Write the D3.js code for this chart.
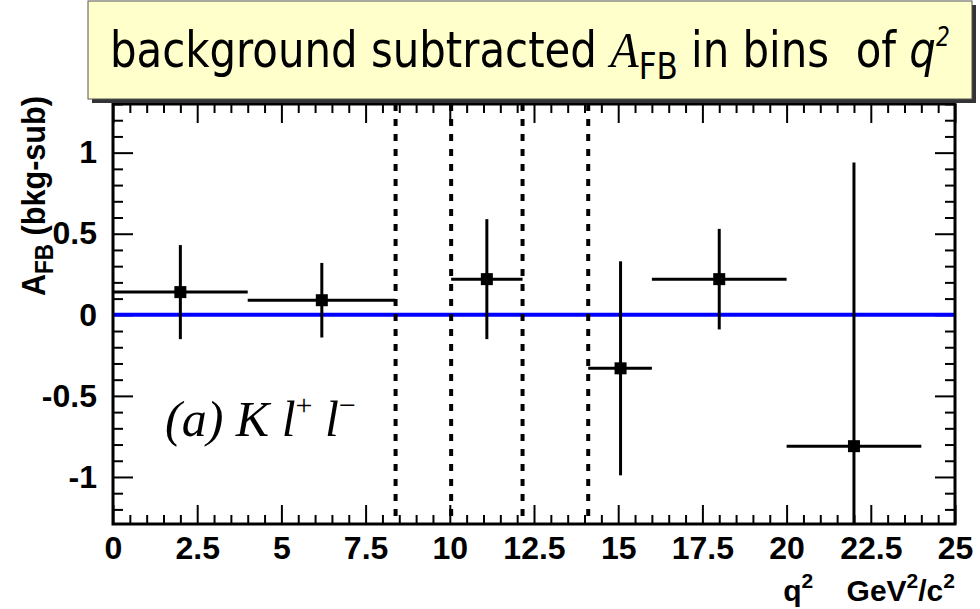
<!DOCTYPE html>
<html>
<head>
<meta charset="utf-8">
<script src="https://cdnjs.cloudflare.com/ajax/libs/d3/7.8.5/d3.min.js"></script>
<style>
  body { margin: 0; background: #fff; }
</style>
</head>
<body>
<div id="chart"></div>
<script>
// data
var q2_center = [2.0, 6.2, 11.1, 15.07, 18.0, 22.0];
var q2_low    = [0, 4.0, 10.04, 14.11, 16.0, 20.0];
var q2_high   = [4.0, 8.39, 12.16, 16.0, 20.0, 24.0];
var afb       = [0.14, 0.09, 0.22, -0.33, 0.22, -0.81];
var afb_err   = [0.29, 0.23, 0.37, 0.66, 0.31, 1.75];
var veto_lines = [8.39, 10.04, 12.16, 14.11];
var x_ticks   = [0, 2.5, 5, 7.5, 10, 12.5, 15, 17.5, 20, 22.5, 25];
var y_ticks   = [-1, -0.5, 0, 0.5, 1];

var points = afb.map(function(v, i){
    return {x: q2_center[i], lo: q2_low[i], hi: q2_high[i], y: v, err: afb_err[i]};
});

var chart_width  = 980;
var chart_height = 609;
var plot_left = 113, plot_right = 955, plot_top = 104, plot_bottom = 524;
var sans  = '"Liberation Sans", Arial, sans-serif';
var serif = '"Liberation Serif", "Times New Roman", serif';

var svg = d3.select('#chart')
    .append('svg')
    .attr('width', chart_width)
    .attr('height', chart_height)
    .style('font-family', sans);

var x_scale = d3.scaleLinear().domain([0, 25]).range([plot_left, plot_right]);
var y_scale = d3.scaleLinear().domain([-1.29, 1.30]).range([plot_bottom, plot_top]);

svg.append('defs').append('clipPath').attr('id', 'clip')
    .append('rect')
    .attr('x', plot_left).attr('y', plot_top)
    .attr('width', plot_right - plot_left)
    .attr('height', plot_bottom - plot_top);

// minor tick positions (skip the majors)
function minor_ticks(step, major_step, lo, hi){
    return d3.range(lo, hi + 1e-9, step)
        .filter(function(v){ return Math.abs(v / major_step - Math.round(v / major_step)) > 1e-6; });
}
var x_minor = minor_ticks(0.5, 2.5, 0, 25);
var y_minor = minor_ticks(0.1, 0.5, -1.2, 1.3);

function style_ticks(g){
    g.select('.domain').remove();
    g.selectAll('line').attr('stroke-width', 2);
}
function style_labels(g){
    g.selectAll('text')
        .style('font-family', sans)
        .style('font-size', '32px')
        .style('font-weight', 'bold')
        .attr('fill', '#000')
        .text(function(d){ return String(d); });
}

// ticks on all four sides, pointing inwards
svg.append('g')
    .attr('transform', 'translate(0,' + plot_bottom + ')')
    .call(d3.axisBottom(x_scale).tickValues(x_ticks).tickSize(-19).tickPadding(12))
    .call(style_ticks).call(style_labels);
svg.append('g')
    .attr('transform', 'translate(0,' + plot_bottom + ')')
    .call(d3.axisBottom(x_scale).tickValues(x_minor).tickSize(-9).tickFormat(''))
    .call(style_ticks);
svg.append('g')
    .attr('transform', 'translate(0,' + plot_top + ')')
    .call(d3.axisTop(x_scale).tickValues(x_ticks).tickSize(-19).tickFormat(''))
    .call(style_ticks);
svg.append('g')
    .attr('transform', 'translate(0,' + plot_top + ')')
    .call(d3.axisTop(x_scale).tickValues(x_minor).tickSize(-9).tickFormat(''))
    .call(style_ticks);

svg.append('g')
    .attr('transform', 'translate(' + plot_left + ',0)')
    .call(d3.axisLeft(y_scale).tickValues(y_ticks).tickSize(-20).tickPadding(16))
    .call(style_ticks).call(style_labels);
svg.append('g')
    .attr('transform', 'translate(' + plot_left + ',0)')
    .call(d3.axisLeft(y_scale).tickValues(y_minor).tickSize(-10).tickFormat(''))
    .call(style_ticks);
svg.append('g')
    .attr('transform', 'translate(' + plot_right + ',0)')
    .call(d3.axisRight(y_scale).tickValues(y_ticks).tickSize(-20).tickFormat(''))
    .call(style_ticks);
svg.append('g')
    .attr('transform', 'translate(' + plot_right + ',0)')
    .call(d3.axisRight(y_scale).tickValues(y_minor).tickSize(-10).tickFormat(''))
    .call(style_ticks);

// zero line
svg.append('line')
    .attr('x1', plot_left).attr('x2', plot_right)
    .attr('y1', y_scale(0)).attr('y2', y_scale(0))
    .attr('stroke', '#0000ff').attr('stroke-width', 4);

// dotted veto boundaries
svg.selectAll('.veto')
    .data(veto_lines)
    .enter()
    .append('line')
    .attr('class', 'veto')
    .attr('x1', function(d){ return x_scale(d); })
    .attr('x2', function(d){ return x_scale(d); })
    .attr('y1', plot_top)
    .attr('y2', plot_bottom)
    .attr('stroke', '#000')
    .attr('stroke-width', 4)
    .attr('stroke-dasharray', '7 8');

// data points with errors
var pts = svg.append('g').attr('clip-path', 'url(#clip)');
pts.selectAll('.xerr')
    .data(points)
    .enter()
    .append('line')
    .attr('x1', function(d){ return x_scale(d.lo); })
    .attr('x2', function(d){ return x_scale(d.hi); })
    .attr('y1', function(d){ return y_scale(d.y); })
    .attr('y2', function(d){ return y_scale(d.y); })
    .attr('stroke', '#000').attr('stroke-width', 3);
pts.selectAll('.yerr')
    .data(points)
    .enter()
    .append('line')
    .attr('x1', function(d){ return x_scale(d.x); })
    .attr('x2', function(d){ return x_scale(d.x); })
    .attr('y1', function(d){ return y_scale(d.y + d.err); })
    .attr('y2', function(d){ return y_scale(d.y - d.err); })
    .attr('stroke', '#000').attr('stroke-width', 3);
pts.selectAll('rect')
    .data(points)
    .enter()
    .append('rect')
    .attr('x', function(d){ return x_scale(d.x) - 6; })
    .attr('y', function(d){ return y_scale(d.y) - 6; })
    .attr('width', 12).attr('height', 12)
    .attr('fill', '#000');

// frame
svg.append('rect')
    .attr('x', plot_left).attr('y', plot_top)
    .attr('width', plot_right - plot_left)
    .attr('height', plot_bottom - plot_top)
    .attr('fill', 'none').attr('stroke', '#000').attr('stroke-width', 3);

// y title (narrow lettering)
var ytitle = svg.append('text')
    .attr('transform', 'translate(45,296) rotate(-90) scale(0.9,1)')
    .style('font-size', '34px').style('font-weight', 'bold');
ytitle.append('tspan').text('A');
ytitle.append('tspan').style('font-size', '25px').attr('dy', 8).text('FB');
ytitle.append('tspan').attr('dy', -8).text(' (bkg-sub)');

// x title
var xtitle = svg.append('text')
    .attr('x', plot_right).attr('y', 601)
    .attr('text-anchor', 'end')
    .attr('xml:space', 'preserve')
    .style('font-size', '30px').style('font-weight', 'bold');
xtitle.append('tspan').text('q');
xtitle.append('tspan').style('font-size', '21px').attr('dy', -13).text('2');
xtitle.append('tspan').attr('dy', 13).text('    GeV');
xtitle.append('tspan').style('font-size', '21px').attr('dy', -13).text('2');
xtitle.append('tspan').attr('dy', 13).text('/c');
xtitle.append('tspan').style('font-size', '21px').attr('dy', -13).text('2');

// label in the pad
var lab = svg.append('text')
    .attr('x', 165).attr('y', 436)
    .attr('xml:space', 'preserve')
    .style('font-family', serif)
    .style('font-style', 'italic')
    .style('font-size', '50px');
lab.append('tspan').text('(a) K l');
lab.append('tspan').style('font-size', '30px').style('font-style', 'normal').attr('dy', -21).text('+');
lab.append('tspan').attr('dy', 21).text(' l');
lab.append('tspan').style('font-size', '30px').style('font-style', 'normal').attr('dy', -21).text('\u2212');

// title box
svg.append('rect')
    .attr('x', 92).attr('y', 5)
    .attr('width', 884).attr('height', 98)
    .attr('fill', '#333');
svg.append('rect')
    .attr('x', 88).attr('y', 1)
    .attr('width', 884).attr('height', 98)
    .attr('fill', '#ffffcc').attr('stroke', '#555').attr('stroke-width', 1);
var title = svg.append('text')
    .attr('x', 0).attr('y', 67)
    .attr('xml:space', 'preserve')
    .style('font-family', '"DejaVu Sans Condensed", "DejaVu Sans", sans-serif')
    .style('font-stretch', 'condensed')
    .style('font-size', '50px');
title.append('tspan').text('background subtracted ');
title.append('tspan').style('font-family', serif).style('font-style', 'italic').text('A');
title.append('tspan').style('font-size', '37px').attr('dy', 12).text('FB');
title.append('tspan').attr('dy', -12).text(' in bins  of ');
title.append('tspan').style('font-style', 'italic').text('q');
title.append('tspan').style('font-size', '26px').style('font-style', 'italic').attr('dy', -21).text('2');
// squeeze the title into the box width seen in the picture
var title_w = title.node().getBBox().width;
title.attr('transform', 'translate(110,0) scale(' + (840 / title_w) + ',1)');
</script>
</body>
</html>
